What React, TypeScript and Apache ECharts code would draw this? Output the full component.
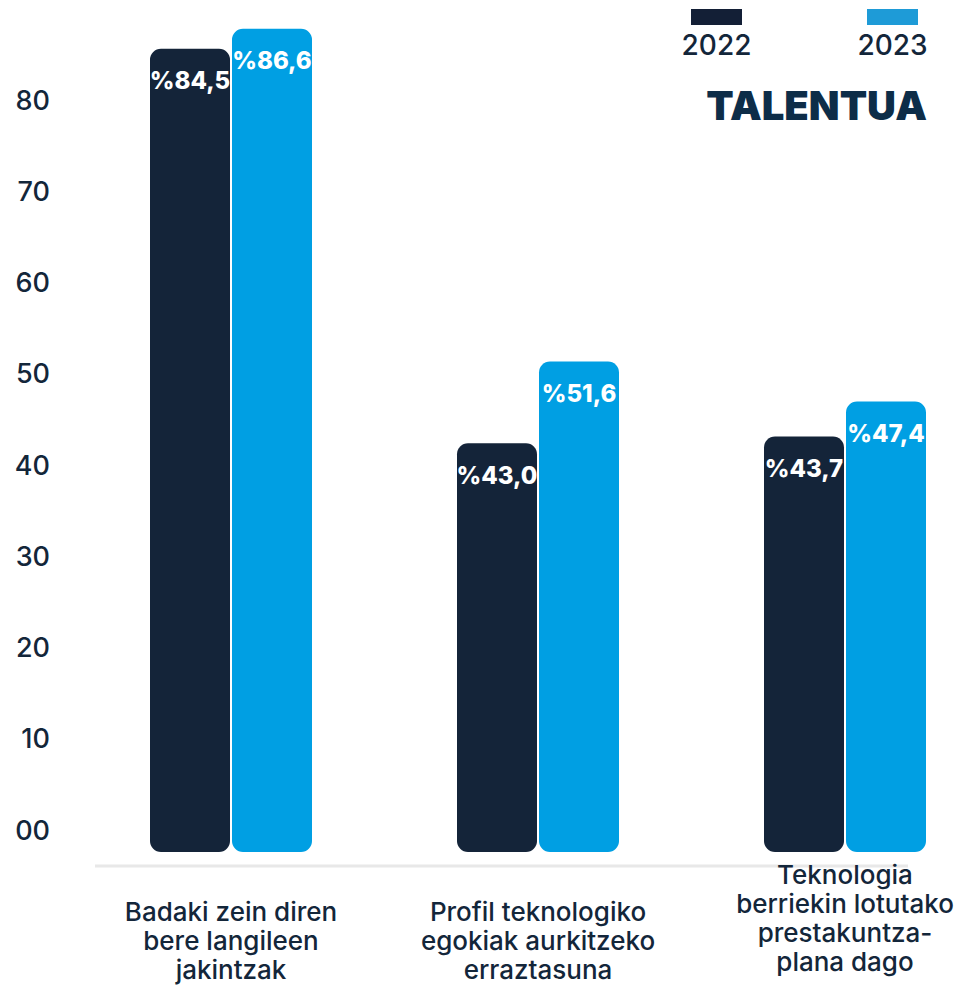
import React, { useEffect, useRef } from "react";
import * as echarts from "echarts";

const categories = [
  "Badaki zein diren\nbere langileen\njakintzak",
  "Profil teknologiko\negokiak aurkitzeko\nerraztasuna",
  "Teknologia\nberriekin lotutako\nprestakuntza-\nplana dago",
];
const series2022 = [84.5, 43.0, 43.7];
const series2023 = [86.6, 51.6, 47.4];
const yTickLabels = ["00", "10", "20", "30", "40", "50", "60", "70", "80"];
const legendNames = ["2022", "2023"];
const titleText = "TALENTUA";

const DARK = "#142439";
const BLUE = "#009fe3";
const TEXT = "#13263a";
const FONT = "Inter, 'Noto Sans', sans-serif";

export default function App() {
  const ref = useRef<HTMLDivElement>(null);
  useEffect(() => {
    document.body.style.margin = "0";
    const chart = echarts.init(ref.current!, undefined, { renderer: "svg" });
    const fmt = (p: any) => "%" + Number(p.value).toFixed(1).replace(".", ",");
    const barLabel = {
      show: true,
      position: "insideTop",
      distance: 20,
      color: "#ffffff",
      fontFamily: FONT,
      fontSize: 24,
      fontWeight: 800,
      formatter: fmt,
    };
    const xLabelBase = {
      color: TEXT,
      fontFamily: FONT,
      fontSize: 26,
      fontWeight: 500,
      lineHeight: 29,
      align: "center",
      verticalAlign: "bottom",
    };
    chart.setOption({
      animation: false,
      textStyle: { fontFamily: FONT },
      grid: [
        { left: 77.5, right: -32.5, top: 10, bottom: 135, containLabel: false, outerBoundsMode: "none" },
        { left: 52, right: 900, top: 100, bottom: 157, containLabel: false, outerBoundsMode: "none" },
      ],
      xAxis: [
        {
          type: "category",
          gridIndex: 0,
          data: categories.map((c, i) =>
            i === 2
              ? { value: c, textStyle: { ...xLabelBase, padding: [0, 0, 8, 0] } }
              : c
          ),
          axisLine: { show: false },
          axisTick: { show: false },
          axisLabel: {
            interval: 0,
            margin: 132,
            ...xLabelBase,
          },
        },
        { type: "category", gridIndex: 1, show: false, data: ["a"] },
      ],
      yAxis: [
        {
          type: "value",
          gridIndex: 0,
          min: 0,
          max: 88.58,
          show: false,
          splitLine: { show: false },
        },
        {
          type: "category",
          gridIndex: 1,
          data: yTickLabels,
          boundaryGap: false,
          axisLine: { show: false },
          axisTick: { show: false },
          splitLine: { show: false },
          axisLabel: {
            interval: 0,
            margin: 2,
            align: "right",
            color: TEXT,
            fontFamily: FONT,
            fontSize: 27,
            fontWeight: 500,
          },
        },
      ],
      series: [
        {
          name: legendNames[0],
          type: "bar",
          xAxisIndex: 0,
          yAxisIndex: 0,
          data: series2022,
          barWidth: 80,
          barGap: "2.5%",
          itemStyle: { color: DARK, borderRadius: 11 },
          label: barLabel,
        },
        {
          name: legendNames[1],
          type: "bar",
          xAxisIndex: 0,
          yAxisIndex: 0,
          data: series2023,
          barWidth: 80,
          itemStyle: { color: BLUE, borderRadius: 11 },
          label: barLabel,
        },
      ],
      graphic: [
        {
          type: "line",
          shape: { x1: 95, y1: 866, x2: 908, y2: 866 },
          style: { stroke: "#e8e8e8", lineWidth: 3 },
          silent: true,
        },
        {
          type: "rect",
          shape: { x: 691, y: 9, width: 51, height: 16 },
          style: { fill: "#131f36" },
        },
        {
          type: "text",
          style: {
            text: legendNames[0],
            x: 716.5,
            y: 45,
            align: "center",
            verticalAlign: "middle",
            fill: TEXT,
            font: "500 28px " + FONT,
          },
        },
        {
          type: "rect",
          shape: { x: 867, y: 9, width: 51, height: 16 },
          style: { fill: "#1e9bd7" },
        },
        {
          type: "text",
          style: {
            text: legendNames[1],
            x: 892.5,
            y: 45,
            align: "center",
            verticalAlign: "middle",
            fill: TEXT,
            font: "500 28px " + FONT,
          },
        },
        {
          type: "text",
          style: {
            text: titleText,
            x: 927,
            y: 105,
            align: "right",
            verticalAlign: "middle",
            fill: "#0d2d48",
            font: "900 40px " + FONT,
          },
        },
      ],
    });
    return () => chart.dispose();
  }, []);
  return <div ref={ref} style={{ width: 966, height: 987 }} />;
}
